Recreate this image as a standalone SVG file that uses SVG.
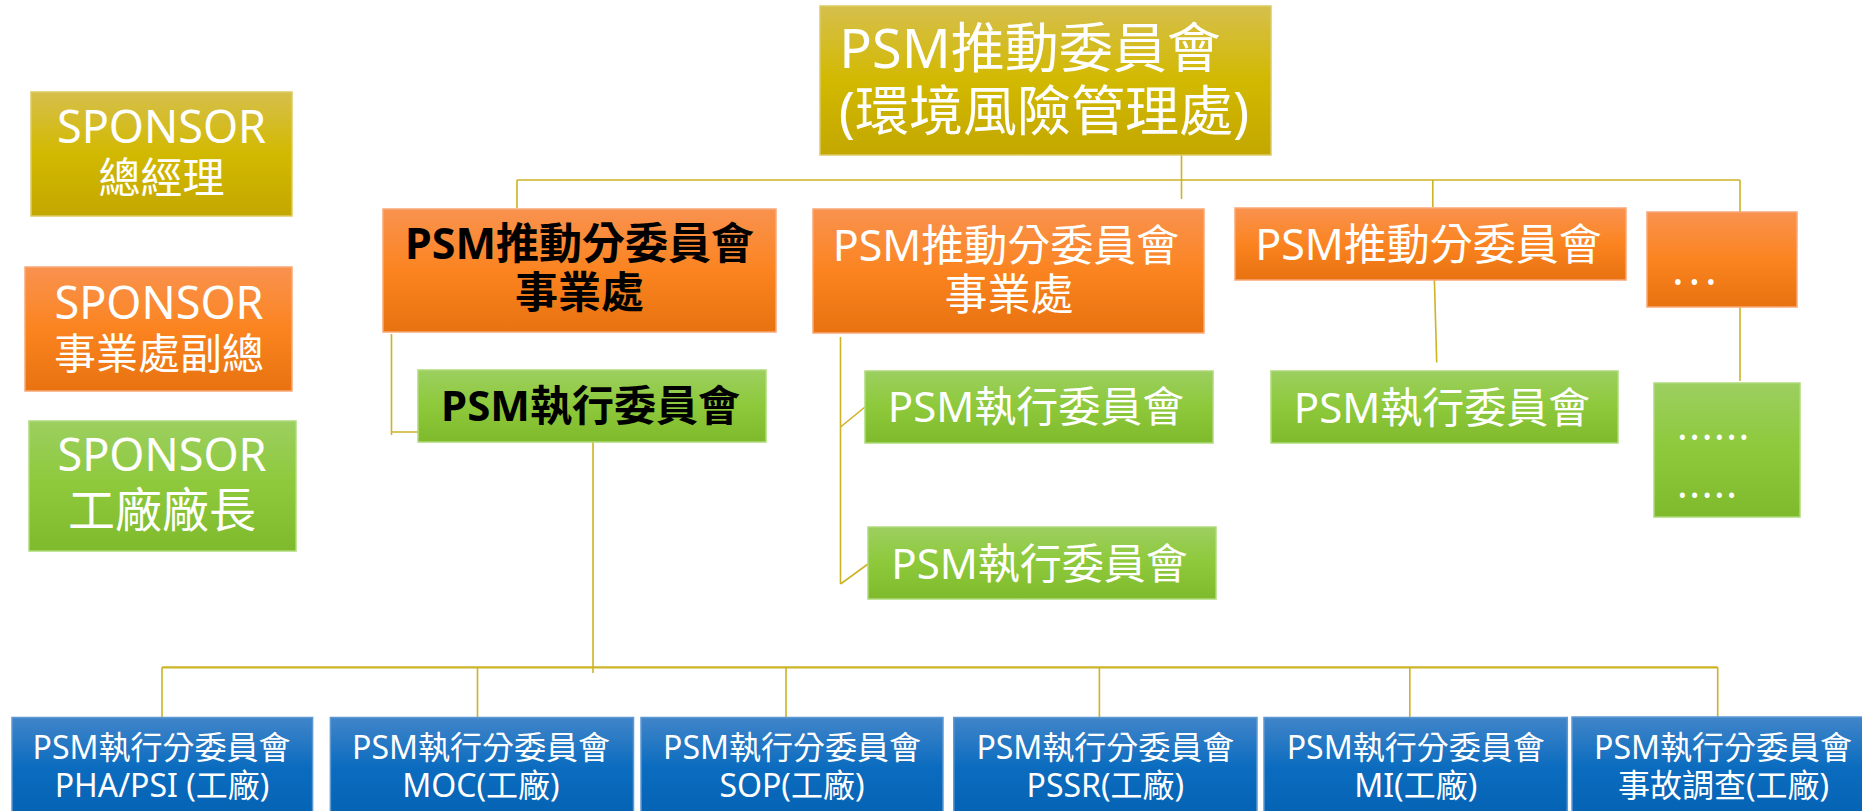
<svg xmlns="http://www.w3.org/2000/svg" width="1862" height="811" viewBox="0 0 1862 811">
<defs>
<linearGradient id="gGold" x1="0" y1="0" x2="0" y2="1">
<stop offset="0" stop-color="#D6BF4C"/><stop offset="0.5" stop-color="#D2B900"/><stop offset="1" stop-color="#C3A700"/>
</linearGradient>
<linearGradient id="gOrange" x1="0" y1="0" x2="0" y2="1">
<stop offset="0" stop-color="#F9924F"/><stop offset="0.5" stop-color="#FB8420"/><stop offset="1" stop-color="#E7720F"/>
</linearGradient>
<linearGradient id="gGreen" x1="0" y1="0" x2="0" y2="1">
<stop offset="0" stop-color="#9CCF60"/><stop offset="0.5" stop-color="#8DC93A"/><stop offset="1" stop-color="#7EBA2C"/>
</linearGradient>
<linearGradient id="gBlue" x1="0" y1="0" x2="0" y2="1">
<stop offset="0" stop-color="#4185C9"/><stop offset="0.5" stop-color="#0B6CBF"/><stop offset="1" stop-color="#0562B3"/>
</linearGradient>
</defs>
<style>
.gold{fill:url(#gGold);stroke:#DCCB62;stroke-width:1.5}
.orange{fill:url(#gOrange);stroke:#F9A878;stroke-width:1.5}
.green{fill:url(#gGreen);stroke:#AEDA7A;stroke-width:1.5}
.blue{fill:url(#gBlue);stroke:#5C98D2;stroke-width:1.5}
text{font-family:"Noto Sans","Noto Sans CJK TC",sans-serif;}
.w{fill:#FFFFFF}
.k{fill:#000000;font-weight:bold}
.c{text-anchor:middle}
.conn{fill:none;stroke:#CDB326;stroke-width:1.6}
.conn2{fill:none;stroke:#CDB326;stroke-width:2.2}
</style>
<rect width="1862" height="811" fill="#FFFFFF"/>

<g id="connectors">
<path class="conn" d="M1181.5 155V199M517 180H1740M517 180V208M1432.8 180V207M1740 180V212"/>
<path class="conn" d="M391.5 334V435M391.5 432H418"/>
<path class="conn" d="M840.5 337V584M840.5 427L865 407M840.5 584L868 564"/>
<path class="conn" d="M1434.4 280L1436.7 362.5"/>
<path class="conn" d="M1740 307V381"/>
<path class="conn" d="M593 442V673M162 667.3V717M477.5 667.3V717M786 667.3V717M1099.4 667.3V717M1409.8 667.3V717M1717.7 667.3V719"/>
<path class="conn2" d="M162 667.3H1717.7"/>
</g>

<g id="sponsor-gm">
<rect class="gold" x="31" y="92" width="261" height="124"/>
<text class="w c" x="161.5" y="143" font-size="45">SPONSOR</text>
<text class="w c" x="161.5" y="193" font-size="42">總經理</text>
</g>
<g id="sponsor-vp">
<rect class="orange" x="25" y="267" width="267" height="124"/>
<text class="w c" x="159" y="319" font-size="45">SPONSOR</text>
<text class="w c" x="159" y="369" font-size="42">事業處副總</text>
</g>
<g id="sponsor-plant">
<rect class="green" x="29" y="421" width="267" height="130"/>
<text class="w c" x="162" y="471" font-size="45">SPONSOR</text>
<text class="w c" x="162" y="527" font-size="47">工廠廠長</text>
</g>

<g id="psm-committee">
<rect class="gold" x="820" y="6" width="451" height="149"/>
<text class="w c" x="1030" y="68" font-size="54">PSM推動委員會</text>
<text class="w c" x="1044" y="131" font-size="54">(環境風險管理處)</text>
</g>

<g id="sub-committee-1">
<rect class="orange" x="383" y="209" width="393" height="123"/>
<text class="k c" x="579.5" y="259" font-size="43">PSM推動分委員會</text>
<text class="k c" x="579.5" y="308" font-size="43">事業處</text>
</g>
<g id="sub-committee-2">
<rect class="orange" x="813" y="209" width="391" height="124"/>
<text class="w c" x="1006" y="260.5" font-size="43">PSM推動分委員會</text>
<text class="w c" x="1009" y="310" font-size="43">事業處</text>
</g>
<g id="sub-committee-3">
<rect class="orange" x="1235" y="208" width="391" height="72"/>
<text class="w c" x="1428.5" y="260" font-size="43">PSM推動分委員會</text>
</g>
<g id="sub-committee-more">
<rect class="orange" x="1647" y="212" width="150" height="95"/>
<text class="w" x="1672" y="285" font-size="44" letter-spacing="4.7">...</text>
</g>

<g id="exec-1">
<rect class="green" x="418" y="370" width="348" height="72"/>
<text class="k c" x="590.5" y="421" font-size="42">PSM執行委員會</text>
</g>
<g id="exec-2">
<rect class="green" x="865" y="371" width="348" height="72"/>
<text class="w c" x="1036" y="421.7" font-size="42">PSM執行委員會</text>
</g>
<g id="exec-3">
<rect class="green" x="868" y="527" width="348" height="72"/>
<text class="w c" x="1039.5" y="579" font-size="42">PSM執行委員會</text>
</g>
<g id="exec-4">
<rect class="green" x="1271" y="371" width="347" height="72"/>
<text class="w c" x="1442" y="422.5" font-size="42">PSM執行委員會</text>
</g>
<g id="exec-more">
<rect class="green" x="1654" y="383" width="146" height="134"/>
<text class="w" x="1677" y="440" font-size="40" letter-spacing="1.6">......</text>
<text class="w" x="1677" y="497.5" font-size="40" letter-spacing="1.6">.....</text>
</g>

<g id="exec-sub-pha">
<rect class="blue" x="12" y="717.5" width="300.6" height="100"/>
<text class="w c" x="161.6" y="759" font-size="32">PSM執行分委員會</text>
<text class="w c" x="162" y="797" font-size="32">PHA/PSI (工廠)</text>
</g>
<g id="exec-sub-moc">
<rect class="blue" x="330.4" y="717.5" width="303.1" height="100"/>
<text class="w c" x="481" y="759" font-size="32">PSM執行分委員會</text>
<text class="w c" x="481" y="797" font-size="32">MOC(工廠)</text>
</g>
<g id="exec-sub-sop">
<rect class="blue" x="641" y="717.5" width="302" height="100"/>
<text class="w c" x="792" y="759" font-size="32">PSM執行分委員會</text>
<text class="w c" x="792" y="797" font-size="32">SOP(工廠)</text>
</g>
<g id="exec-sub-pssr">
<rect class="blue" x="953.8" y="717.5" width="303.2" height="100"/>
<text class="w c" x="1105.4" y="759" font-size="32">PSM執行分委員會</text>
<text class="w c" x="1105.4" y="797" font-size="32">PSSR(工廠)</text>
</g>
<g id="exec-sub-mi">
<rect class="blue" x="1264" y="717.5" width="303.3" height="100"/>
<text class="w c" x="1415.7" y="759" font-size="32">PSM執行分委員會</text>
<text class="w c" x="1415.7" y="797" font-size="32">MI(工廠)</text>
</g>
<g id="exec-sub-incident">
<rect class="blue" x="1572" y="717" width="302" height="100"/>
<text class="w c" x="1723" y="759" font-size="32">PSM執行分委員會</text>
<text class="w c" x="1723.5" y="797" font-size="32">事故調查(工廠)</text>
</g>
</svg>
